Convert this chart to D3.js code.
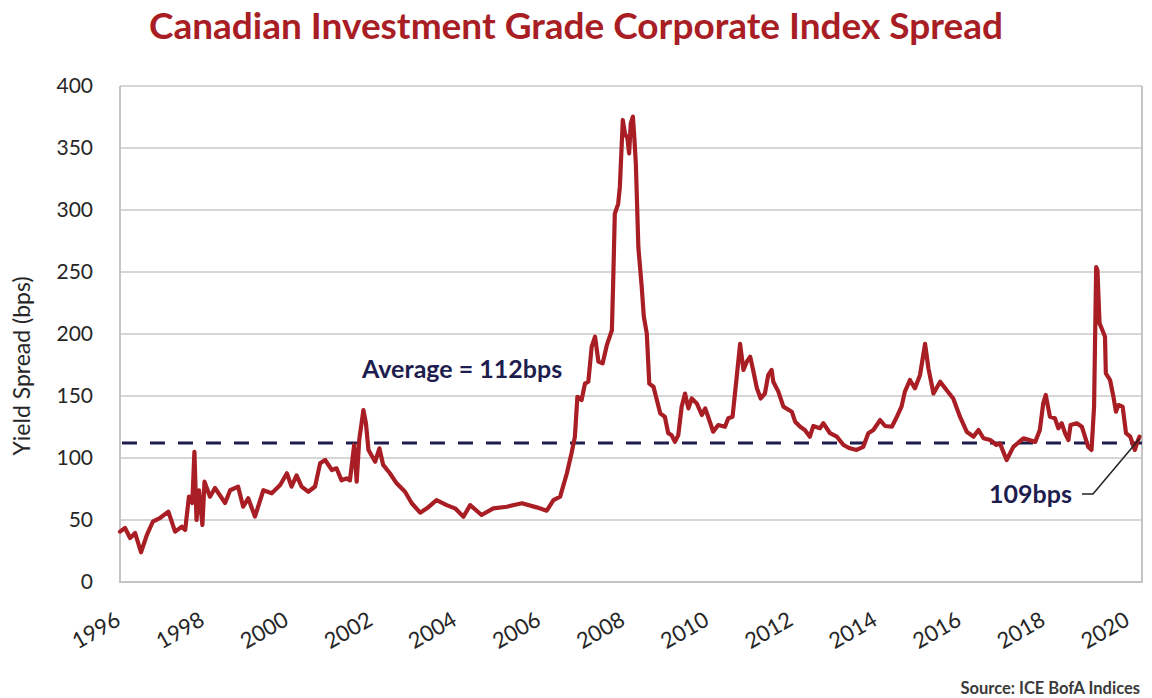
<!DOCTYPE html>
<html>
<head>
<meta charset="utf-8">
<title>Canadian IG Corporate Spread</title>
<script src="https://d3js.org/d3.v7.min.js"></script>
<style>
  body { margin: 0; background: #fff; }
  text { font-family: Lato, "Open Sans", sans-serif; }
</style>
</head>
<body>
<svg id="mainsvg" width="1152" height="698"></svg>
<script>
// values (x in fractional years, y in bps)
const dates = [
  1996.00, 1996.12, 1996.24, 1996.36, 1996.50, 1996.64, 1996.78, 1996.95, 1997.15, 1997.31,
  1997.47, 1997.55, 1997.64, 1997.72, 1997.77, 1997.82, 1997.88, 1997.96, 1998.01, 1998.14,
  1998.26, 1998.50, 1998.62, 1998.81, 1998.93, 1999.05, 1999.21, 1999.41, 1999.61, 1999.81,
  1999.97, 2000.08, 2000.20, 2000.32, 2000.48, 2000.64, 2000.76, 2000.88, 2001.04, 2001.15,
  2001.27, 2001.39, 2001.47, 2001.57, 2001.63, 2001.69, 2001.79, 2001.85, 2001.91, 2002.07,
  2002.17, 2002.26, 2002.42, 2002.58, 2002.78, 2002.94, 2003.14, 2003.30, 2003.53, 2003.77,
  2003.97, 2004.17, 2004.33, 2004.60, 2004.88, 2005.20, 2005.56, 2005.91, 2006.15, 2006.31,
  2006.47, 2006.63, 2006.74, 2006.82, 2006.88, 2006.98, 2007.06, 2007.14, 2007.22, 2007.30,
  2007.38, 2007.48, 2007.58, 2007.70, 2007.73, 2007.77, 2007.85, 2007.89, 2007.96, 2008.01,
  2008.07, 2008.11, 2008.15, 2008.20, 2008.23, 2008.27, 2008.33, 2008.41, 2008.46, 2008.53,
  2008.59, 2008.69, 2008.77, 2008.85, 2008.96, 2009.04, 2009.12, 2009.20, 2009.28, 2009.36,
  2009.44, 2009.52, 2009.60, 2009.72, 2009.84, 2009.92, 2009.99, 2010.11, 2010.23, 2010.39,
  2010.47, 2010.57, 2010.67, 2010.75, 2010.83, 2010.91, 2010.99, 2011.06, 2011.15, 2011.24,
  2011.34, 2011.42, 2011.50, 2011.54, 2011.66, 2011.78, 2011.98, 2012.06, 2012.18, 2012.29,
  2012.41, 2012.49, 2012.65, 2012.73, 2012.89, 2013.05, 2013.21, 2013.36, 2013.52, 2013.68,
  2013.80, 2013.92, 2014.08, 2014.20, 2014.36, 2014.48, 2014.59, 2014.67, 2014.79, 2014.91,
  2015.03, 2015.15, 2015.23, 2015.35, 2015.51, 2015.66, 2015.82, 2015.98, 2016.14, 2016.30,
  2016.42, 2016.54, 2016.70, 2016.85, 2016.93, 2017.09, 2017.25, 2017.49, 2017.77, 2017.88,
  2017.96, 2018.02, 2018.12, 2018.24, 2018.32, 2018.40, 2018.48, 2018.56, 2018.61, 2018.76,
  2018.88, 2019.03, 2019.11, 2019.17, 2019.22, 2019.25, 2019.30, 2019.35, 2019.43, 2019.45,
  2019.55, 2019.63, 2019.69, 2019.75, 2019.85, 2019.93, 2020.03, 2020.14, 2020.20, 2020.25
];
const spread = [
  40.6, 43.5, 35.5, 39.5, 24.0, 38.0, 48.6, 51.6, 56.7, 40.6,
  44.6, 42.0, 68.8, 63.7, 105.0, 50.0, 74.0, 46.0, 80.9, 68.8,
  75.8, 63.7, 74.0, 76.9, 60.7, 67.5, 52.7, 74.0, 71.5, 78.2,
  87.7, 76.9, 86.0, 76.9, 72.8, 77.0, 95.7, 98.4, 90.3, 91.7,
  82.0, 83.6, 82.0, 110.5, 80.9, 114.5, 138.7, 128.0, 106.5, 97.0,
  107.8, 94.4, 87.7, 79.6, 72.8, 63.5, 55.9, 59.4, 66.0, 62.0,
  59.4, 52.7, 62.0, 54.0, 59.4, 60.7, 63.5, 60.2, 57.5, 66.0,
  68.8, 87.7, 103.8, 117.0, 149.4, 146.8, 160.0, 161.5, 189.8, 197.8,
  177.7, 176.3, 191.0, 203.0, 240.0, 297.0, 305.0, 318.8, 372.6, 361.8,
  357.8, 345.7, 369.9, 375.3, 360.5, 337.7, 270.0, 238.0, 214.0, 200.6,
  160.0, 157.5, 146.8, 136.0, 133.3, 120.0, 118.5, 113.0, 118.5, 141.4,
  152.0, 140.0, 148.0, 144.0, 134.7, 140.0, 133.3, 121.2, 126.6, 125.2,
  132.0, 133.3, 165.6, 192.0, 171.0, 177.7, 181.7, 171.0, 156.2, 148.0,
  152.0, 167.0, 171.0, 161.5, 153.5, 141.4, 137.3, 129.3, 125.2, 122.6,
  117.2, 125.8, 124.0, 128.0, 120.0, 117.2, 110.5, 107.8, 106.5, 109.0,
  120.0, 122.6, 130.6, 125.8, 125.2, 133.3, 141.4, 153.5, 162.9, 156.2,
  167.0, 192.0, 172.3, 152.0, 161.5, 154.8, 148.0, 133.3, 121.2, 117.2,
  122.6, 115.9, 114.5, 110.5, 111.8, 98.4, 109.0, 115.9, 113.0, 122.6,
  144.0, 150.8, 133.3, 132.0, 124.0, 128.0, 120.0, 114.5, 126.6, 128.0,
  125.2, 109.0, 106.5, 141.4, 254.0, 251.6, 208.6, 204.6, 197.8, 168.3,
  162.9, 149.4, 137.3, 142.7, 141.4, 120.0, 117.2, 106.5, 113.0, 117.2
];
const yearTicks = [1996, 1998, 2000, 2002, 2004, 2006, 2008, 2010, 2012, 2014, 2016, 2018, 2020];
const spreadTicks = [0, 50, 100, 150, 200, 250, 300, 350, 400];
const average = 112;
const latestLabel = '109bps';

const svg = d3.select('#mainsvg');
const margin = { top: 86, right: 10, bottom: 116, left: 120 };
const innerWidth = 1142 - margin.left;
const innerHeight = 582 - margin.top;

const red = '#a81e24';
const navy = '#1e1d4f';

const x = d3.scaleLinear().domain([1996, 2020.31]).range([0, innerWidth]);
const y = d3.scaleLinear().domain([0, 400]).range([innerHeight, 0]);

const data = dates.map((d, i) => ({ t: d, v: spread[i] }));

svg.append('text')
  .attr('x', 576).attr('y', 39)
  .attr('text-anchor', 'middle')
  .attr('font-size', 36).attr('font-weight', 700)
  .attr('fill', red)
  .attr('textLength', 854).attr('lengthAdjust', 'spacingAndGlyphs')
  .text('Canadian Investment Grade Corporate Index Spread');

const g = svg.append('g').attr('transform', `translate(${margin.left}, ${margin.top})`);

// gridlines
g.append('g').selectAll('line').data(spreadTicks.filter(d => d > 0)).join('line')
  .attr('x1', 0).attr('x2', innerWidth)
  .attr('y1', d => y(d)).attr('y2', d => y(d))
  .attr('stroke', '#c9c9c9').attr('stroke-width', 1.5);

// frame (left, right, bottom)
g.append('path')
  .attr('d', `M0,${y(400)}V${innerHeight}H${innerWidth}V${y(400)}`)
  .attr('fill', 'none').attr('stroke', '#c4c4c4').attr('stroke-width', 2);

// y tick labels
g.append('g').selectAll('text').data(spreadTicks).join('text')
  .attr('x', -27).attr('y', d => y(d))
  .attr('dy', '0.35em')
  .attr('text-anchor', 'end')
  .attr('font-size', 21).attr('fill', '#262626')
  .text(d => d);

// x tick labels
g.append('g').selectAll('text').data(yearTicks).join('text')
  .attr('text-anchor', 'end')
  .attr('transform', d => `translate(${x(d) + 2}, ${innerHeight + 42}) rotate(-30)`)
  .attr('font-size', 22).attr('fill', '#262626')
  .text(d => d);

svg.append('text')
  .attr('transform', `translate(30, 366) rotate(-90)`)
  .attr('text-anchor', 'middle')
  .attr('font-size', 23).attr('fill', '#262626')
  .text('Yield Spread (bps)');

// average line
g.append('line')
  .attr('x1', 2).attr('x2', innerWidth)
  .attr('y1', y(average)).attr('y2', y(average))
  .attr('stroke', navy).attr('stroke-width', 3)
  .attr('stroke-dasharray', '15,13');

const line = d3.line().x(d => x(d.t)).y(d => y(d.v));
g.append('path')
  .datum(data)
  .attr('fill', 'none')
  .attr('stroke', red)
  .attr('stroke-width', 4.2)
  .attr('stroke-linejoin', 'round')
  .attr('stroke-linecap', 'round')
  .attr('d', line);

g.append('text')
  .attr('x', 242).attr('y', y(average) - 65)
  .attr('font-size', 25).attr('font-weight', 700)
  .attr('fill', navy)
  .text(`Average = ${average}bps`);

// callout for latest value
const last = data[data.length - 1];
g.append('path')
  .attr('d', `M${962},${408}H${973}L${x(last.t)},${y(last.v) + 2}`)
  .attr('fill', 'none').attr('stroke', '#222').attr('stroke-width', 1.5);
g.append('text')
  .attr('x', 952).attr('y', 417)
  .attr('text-anchor', 'end')
  .attr('font-size', 25).attr('font-weight', 700)
  .attr('fill', navy)
  .text(latestLabel);

svg.append('text')
  .attr('x', 1140).attr('y', 694)
  .attr('text-anchor', 'end')
  .attr('font-size', 16.5).attr('font-weight', 700)
  .attr('fill', '#3a3a3a')
  .text('Source: ICE BofA Indices');
</script>
</body>
</html>
